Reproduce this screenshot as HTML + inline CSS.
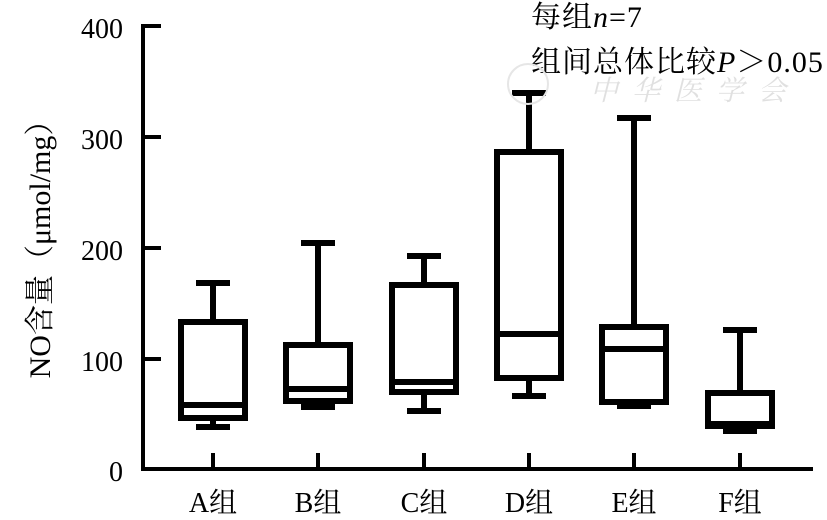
<!DOCTYPE html>
<html><head><meta charset="utf-8"><style>
html,body{margin:0;padding:0;background:#fff;}
svg{display:block;}
text{font-family:"Liberation Serif","Noto Serif CJK SC",serif;fill:#000;}
</style></head><body>
<svg width="827" height="520" viewBox="0 0 827 520" xmlns="http://www.w3.org/2000/svg">
<g stroke="#000" stroke-width="4" fill="none">
<line x1="143" y1="24" x2="143" y2="471"/>
<line x1="141" y1="469" x2="813" y2="469"/>
<line x1="143" y1="26" x2="161" y2="26"/>
<line x1="143" y1="137" x2="161" y2="137"/>
<line x1="143" y1="248" x2="161" y2="248"/>
<line x1="143" y1="359" x2="161" y2="359"/>
<line x1="213" y1="453" x2="213" y2="469"/>
<line x1="318" y1="453" x2="318" y2="469"/>
<line x1="424" y1="453" x2="424" y2="469"/>
<line x1="529" y1="453" x2="529" y2="469"/>
<line x1="634" y1="453" x2="634" y2="469"/>
<line x1="740" y1="453" x2="740" y2="469"/>
</g>
<g stroke="#000" stroke-width="6" fill="none">
<line x1="213" y1="283" x2="213" y2="322"/><line x1="196" y1="283" x2="230" y2="283"/>
<line x1="213" y1="418" x2="213" y2="427"/><line x1="196" y1="427" x2="230" y2="427"/>
<rect x="181" y="322" width="64" height="96"/><line x1="181" y1="405" x2="245" y2="405"/>
<line x1="318" y1="243" x2="318" y2="345"/><line x1="301" y1="243" x2="335" y2="243"/>
<line x1="318" y1="401" x2="318" y2="407"/><line x1="301" y1="407" x2="335" y2="407"/>
<rect x="286" y="345" width="64" height="56"/><line x1="286" y1="389" x2="350" y2="389"/>
<line x1="424" y1="256" x2="424" y2="285"/><line x1="407" y1="256" x2="441" y2="256"/>
<line x1="424" y1="392" x2="424" y2="411"/><line x1="407" y1="411" x2="441" y2="411"/>
<rect x="392" y="285" width="64" height="107"/><line x1="392" y1="382" x2="456" y2="382"/>
<line x1="529" y1="93" x2="529" y2="152"/><line x1="512" y1="93" x2="546" y2="93"/>
<line x1="529" y1="378" x2="529" y2="396"/><line x1="512" y1="396" x2="546" y2="396"/>
<rect x="497" y="152" width="64" height="226"/><line x1="497" y1="334" x2="561" y2="334"/>
<line x1="634" y1="118" x2="634" y2="327"/><line x1="617" y1="118" x2="651" y2="118"/>
<line x1="617" y1="406" x2="651" y2="406"/>
<rect x="602" y="327" width="64" height="75"/><line x1="602" y1="349" x2="666" y2="349"/>
<line x1="740" y1="330" x2="740" y2="393"/><line x1="723" y1="330" x2="757" y2="330"/>
<line x1="723" y1="431" x2="757" y2="431"/>
<rect x="708" y="393" width="64" height="33"/><line x1="708" y1="424" x2="772" y2="424"/>
</g>
<g font-size="28" text-anchor="end">
<text x="123" y="38">400</text>
<text x="123" y="149">300</text>
<text x="123" y="260">200</text>
<text x="123" y="371">100</text>
<text x="123" y="481">0</text>
</g>
<g font-size="28" text-anchor="middle">
<text x="213" y="512">A组</text>
<text x="318" y="512">B组</text>
<text x="424" y="512">C组</text>
<text x="529" y="512">D组</text>
<text x="634" y="512">E组</text>
<text x="740" y="512">F组</text>
</g>
<text font-size="30" text-anchor="middle" transform="translate(50,242) rotate(-90)">NO含量（μmol/mg）</text>
<text x="531" y="27" font-size="30" letter-spacing="1">每组<tspan font-style="italic">n</tspan>=7</text>
<text x="531" y="72" font-size="30" letter-spacing="1">组间总体比较<tspan font-style="italic">P</tspan>＞0.05</text>
<text x="590" y="100" font-size="28" style="fill:#e0e0e0" font-style="italic" letter-spacing="14">中华医学会</text>
<circle cx="528" cy="84" r="20" fill="none" stroke="#e6e6e6" stroke-width="2"/>
</svg>
</body></html>
